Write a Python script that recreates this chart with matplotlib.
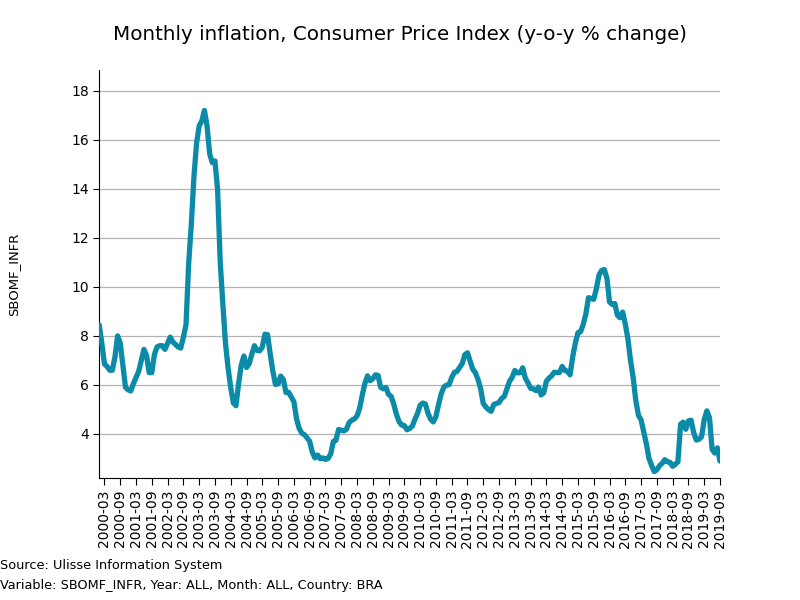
import matplotlib
matplotlib.use("Agg")
import matplotlib.pyplot as plt
import numpy as np

title = "Monthly inflation, Consumer Price Index (y-o-y % change)"
ylabel = "SBOMF_INFR"
start_year = 2000

# Monthly y-o-y % change, Jan 2000 .. Sep 2019
v2000 = [8.45, 7.70, 6.85, 6.75, 6.60, 6.60, 7.15, 8.00, 7.70, 6.80, 5.90, 5.80]
v2001 = [5.75, 6.05, 6.30, 6.55, 7.00, 7.45, 7.20, 6.50, 6.50, 7.25, 7.55, 7.60]
v2002 = [7.60, 7.45, 7.70, 7.95, 7.75, 7.65, 7.55, 7.50, 7.95, 8.45, 10.93, 12.53]
v2003 = [14.47, 15.85, 16.57, 16.77, 17.20, 16.57, 15.43, 15.07, 15.14, 13.98, 11.02, 9.30]
v2004 = [7.71, 6.69, 5.89, 5.26, 5.15, 6.06, 6.81, 7.18, 6.71, 6.86, 7.24, 7.60]
v2005 = [7.41, 7.39, 7.54, 8.07, 8.05, 7.27, 6.57, 6.02, 6.04, 6.36, 6.22, 5.69]
v2006 = [5.70, 5.51, 5.32, 4.63, 4.23, 4.03, 3.97, 3.84, 3.70, 3.26, 3.02, 3.14]
v2007 = [2.99, 3.02, 2.96, 3.00, 3.18, 3.69, 3.74, 4.18, 4.15, 4.12, 4.19, 4.46]
v2008 = [4.56, 4.61, 4.73, 5.04, 5.58, 6.06, 6.37, 6.17, 6.25, 6.41, 6.39, 5.90]
v2009 = [5.84, 5.90, 5.61, 5.53, 5.20, 4.80, 4.50, 4.36, 4.34, 4.17, 4.22, 4.31]
v2010 = [4.59, 4.83, 5.17, 5.26, 5.22, 4.84, 4.60, 4.49, 4.70, 5.20, 5.63, 5.91]
v2011 = [5.99, 6.01, 6.30, 6.51, 6.55, 6.71, 6.87, 7.23, 7.31, 6.97, 6.64, 6.50]
v2012 = [6.22, 5.85, 5.24, 5.10, 4.99, 4.92, 5.20, 5.24, 5.28, 5.45, 5.53, 5.84]
v2013 = [6.15, 6.31, 6.59, 6.49, 6.50, 6.70, 6.27, 6.09, 5.86, 5.84, 5.77, 5.91]
v2014 = [5.59, 5.68, 6.15, 6.28, 6.37, 6.52, 6.50, 6.51, 6.75, 6.59, 6.56, 6.41]
v2015 = [7.14, 7.70, 8.13, 8.17, 8.47, 8.89, 9.56, 9.53, 9.49, 9.93, 10.48, 10.67]
v2016 = [10.71, 10.36, 9.39, 9.28, 9.32, 8.84, 8.74, 8.97, 8.48, 7.87, 6.99, 6.29]
v2017 = [5.35, 4.76, 4.57, 4.08, 3.60, 3.00, 2.71, 2.46, 2.54, 2.70, 2.80, 2.95]
v2018 = [2.86, 2.84, 2.68, 2.76, 2.86, 4.39, 4.48, 4.19, 4.53, 4.56, 4.05, 3.75]
v2019 = [3.78, 3.89, 4.58, 4.94, 4.66, 3.37, 3.22, 3.43, 2.89]

values = (v2000 + v2001 + v2002 + v2003 + v2004 + v2005 + v2006 + v2007 + v2008
          + v2009 + v2010 + v2011 + v2012 + v2013 + v2014 + v2015 + v2016 + v2017
          + v2018 + v2019)

labels = []
for i in range(len(values)):
    y = start_year + i // 12
    m = i % 12 + 1
    labels.append(f"{y}-{m:02d}")

x = np.arange(len(values))
tick_idx = [i for i in x if (i % 12) in (2, 8)]

fig = plt.figure(figsize=(8, 6), dpi=100)
ax = fig.add_axes([0.124, 0.2033, 0.776, 0.68])

ax.plot(x, values, color="#0b8ba8", linewidth=3.8, solid_capstyle="round",
        solid_joinstyle="round", zorder=3)

ax.set_xlim(0, len(values) - 1)
ax.set_ylim(2.2, 18.85)
ax.set_yticks(np.arange(4, 19, 2))
ax.set_xticks(tick_idx)
ax.set_xticklabels([labels[i] for i in tick_idx], rotation=90, fontsize=10)
ax.tick_params(axis="y", labelsize=10, length=4)
ax.tick_params(axis="x", length=5)
ax.grid(axis="y", color="#b3b3b3", linewidth=0.9)
ax.set_axisbelow(True)
for s in ["top", "right"]:
    ax.spines[s].set_visible(False)

ax.set_ylabel(ylabel, fontsize=9.5)
ax.yaxis.set_label_coords(-0.128, 0.5)

fig.text(0.5, 0.943, title, ha="center", va="center", fontsize=14.3)
fig.text(0.0, 0.057, "Source: Ulisse Information System", ha="left", va="center", fontsize=9.3)
fig.text(0.0, 0.025, "Variable: SBOMF_INFR, Year: ALL, Month: ALL, Country: BRA",
         ha="left", va="center", fontsize=9.3)

fig.savefig("out.png", dpi=100)
